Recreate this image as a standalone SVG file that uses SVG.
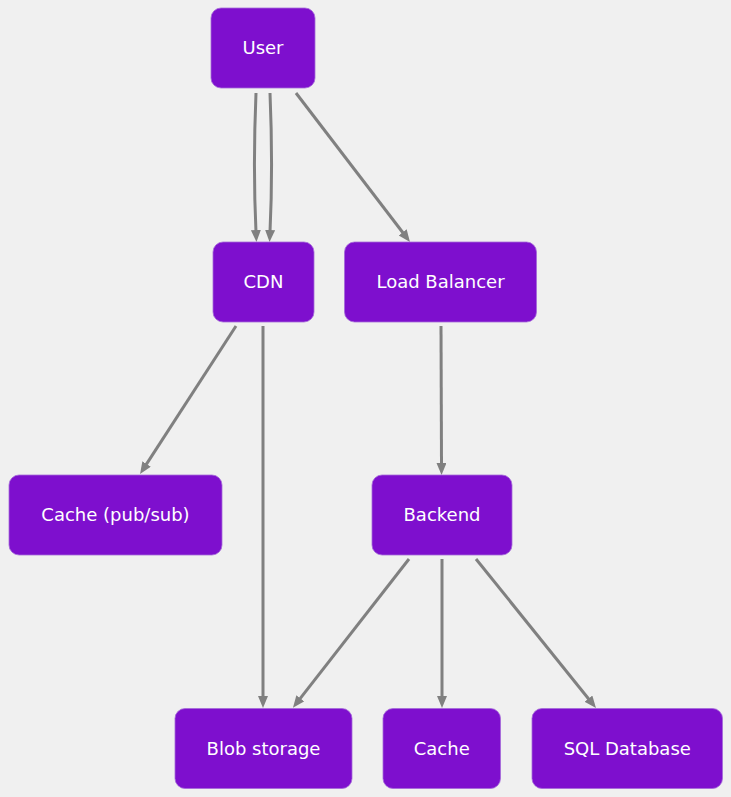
<svg xmlns="http://www.w3.org/2000/svg" width="731" height="797" viewBox="0 0 731 797">
<defs>
<marker id="arr" markerUnits="userSpaceOnUse" markerWidth="14" markerHeight="12" refX="2" refY="5" orient="auto">
<path d="M0,0 L12,5 L0,10 z" fill="#808080"/>
</marker>
<style>
.n rect{fill:#7e0fce;stroke:#a46ad8;stroke-width:0.8}
.n text{fill:#ffffff;font-family:"DejaVu Sans",Verdana,sans-serif;font-size:18px;text-anchor:middle}
.e path{fill:none;stroke:#808080;stroke-width:3;marker-end:url(#arr)}
</style>
</defs>
<rect x="0" y="0" width="731" height="797" fill="#f0f0f0"/>
<g class="e" id="connectors">
<path d="M256,93 C254,140 254,190 256,232"/>
<path d="M270,93 C272,140 272,190 270,232"/>
<path d="M296,93 L403.9,234"/>
<path d="M236,326 L145.5,465.6"/>
<path d="M263,326 L263,698"/>
<path d="M441,326 L441.5,465"/>
<path d="M409,559 L299.1,699.9"/>
<path d="M442,559 L442,698"/>
<path d="M476,559 L589.7,700.2"/>
</g>
<g class="n" id="user"><rect x="211" y="8" width="104" height="80" rx="10"/><text x="263" y="54">User</text></g>
<g class="n" id="cdn"><rect x="213" y="242" width="101" height="80" rx="10"/><text x="263.5" y="288">CDN</text></g>
<g class="n" id="lb"><rect x="344.5" y="242" width="192" height="80" rx="10"/><text x="440.5" y="288">Load Balancer</text></g>
<g class="n" id="cachepubsub"><rect x="9" y="475" width="213" height="80" rx="10"/><text x="115.5" y="521">Cache (pub/sub)</text></g>
<g class="n" id="backend"><rect x="372" y="475" width="140" height="80" rx="10"/><text x="442" y="521">Backend</text></g>
<g class="n" id="blob"><rect x="175" y="708.5" width="177" height="80" rx="10"/><text x="263.5" y="754.5">Blob storage</text></g>
<g class="n" id="cache"><rect x="383" y="708.5" width="117.5" height="80" rx="10"/><text x="441.75" y="754.5">Cache</text></g>
<g class="n" id="sql"><rect x="532" y="708.5" width="190.5" height="80" rx="10"/><text x="627.25" y="754.5">SQL Database</text></g>
</svg>
